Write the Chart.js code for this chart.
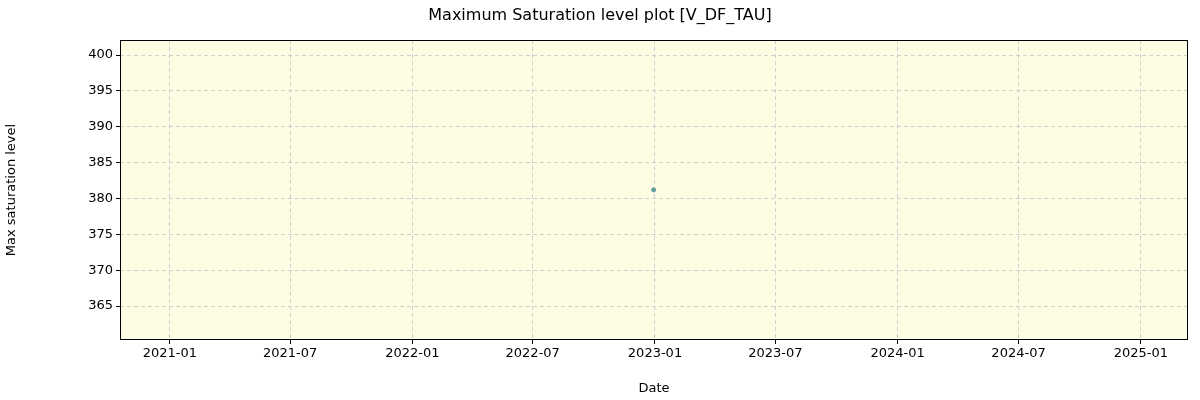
<!DOCTYPE html>
<html><head><meta charset="utf-8">
<script src="https://cdn.jsdelivr.net/npm/chart.js@4"></script>
<style>html,body{margin:0;background:#fff}#w{width:1200px;height:400px}</style>
</head><body><div id="w"><canvas id="c"></canvas></div>
<script>
const title = "Maximum Saturation level plot [V_DF_TAU]";
const pointDates = ["2022-12-30"];
const pointValues = [381.2];
const xTickLabels = ["2021-01","2021-07","2022-01","2022-07","2023-01","2023-07","2024-01","2024-07","2025-01"];
const yTicks = [365,370,375,380,385,390,395,400];
const xMinDate = "2020-10-18", xMaxDate = "2025-03-13";
const yMin = 360.26, yMax = 402.1;

const ts = s => Date.parse(s.length === 7 ? s + "-01T00:00:00Z" : s + "T00:00:00Z");
const xTickVals = xTickLabels.map(ts);
const data = pointDates.map((d,i)=>({x: ts(d), y: pointValues[i]}));

const frame = {
  id:'frame',
  beforeDraw(ch){const a=ch.chartArea,c=ch.ctx;c.save();c.fillStyle='#fdfde3';c.fillRect(a.left,a.top,a.right-a.left,a.bottom-a.top);c.restore();},
  afterDraw(ch){const a=ch.chartArea,c=ch.ctx;c.save();c.strokeStyle='#000';c.lineWidth=1;c.strokeRect(a.left+0.5,a.top+0.5,a.right-a.left-1,a.bottom-a.top-1);
    c.fillStyle='#000';c.font='16px "DejaVu Sans"';c.textAlign='center';c.textBaseline='middle';c.fillText(title,600,16);c.restore();}
};
new Chart(document.getElementById('c'),{
  type:'scatter',
  data:{datasets:[{data, backgroundColor:'#5f9ea0', borderColor:'#4a8a8c', borderWidth:0.5, pointRadius:2.2}]},
  options:{responsive:true,maintainAspectRatio:false,animation:false,
    layout:{padding:{top:40,right:12,left:0,bottom:0}},
    plugins:{legend:{display:false},tooltip:{enabled:false}},
    scales:{
      x:{type:'linear',min:ts(xMinDate),max:ts(xMaxDate),
        afterBuildTicks:s=>{s.ticks=xTickVals.map(v=>({value:v}));},
        afterFit:s=>{s.height=60;},
        ticks:{autoSkip:false,maxRotation:0,color:'#000',font:{family:'DejaVu Sans',size:13},padding:2,
          callback:v=>{const i=xTickVals.indexOf(v);return i>=0?xTickLabels[i]:'';}},
        grid:{color:'#d0d0d0',tickColor:'#000',tickLength:4},
        border:{display:false,dash:[4,3]},
        title:{display:true,text:'Date',color:'#000',font:{family:'DejaVu Sans',size:13},padding:{top:0}}},
      y:{min:yMin,max:yMax,
        afterBuildTicks:s=>{s.ticks=yTicks.map(v=>({value:v}));},
        afterFit:s=>{s.width=120;},
        ticks:{color:'#000',font:{family:'DejaVu Sans',size:13},padding:3},
        grid:{color:'#d0d0d0',tickColor:'#000',tickLength:4},
        border:{display:false,dash:[4,3]},
        title:{display:true,text:'Max saturation level',color:'#000',font:{family:'DejaVu Sans',size:13}}}
    }},
  plugins:[frame]
});
</script></body></html>
